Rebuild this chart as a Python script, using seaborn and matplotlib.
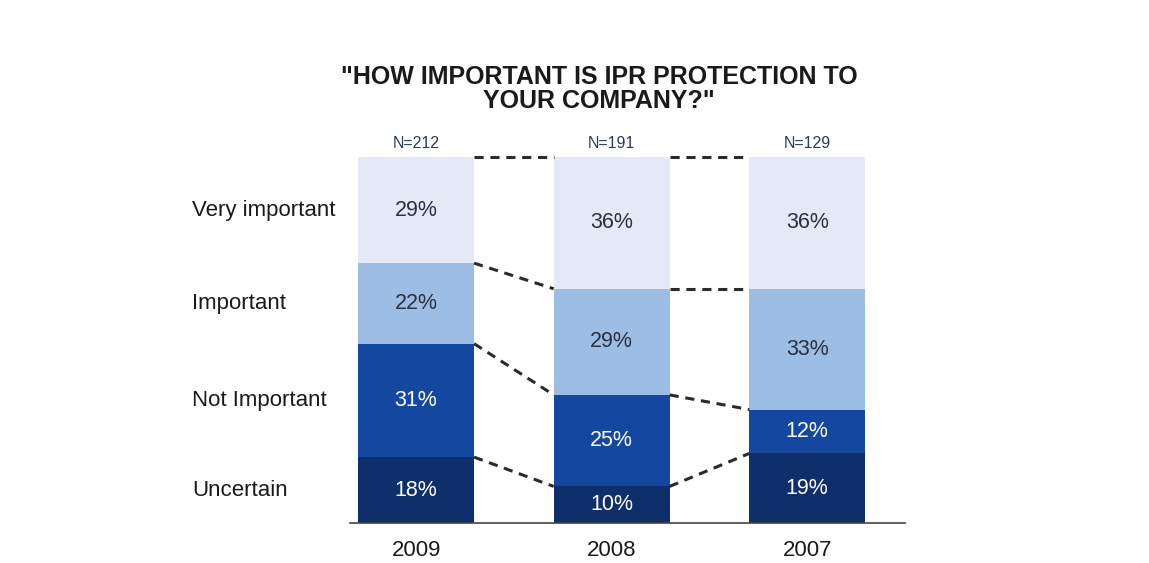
import numpy as np
import pandas as pd
import matplotlib
matplotlib.use("Agg")
import matplotlib.pyplot as plt
import matplotlib.transforms as mtransforms
import seaborn as sns

# Survey results, share of respondents per answer (%)
years = ["2009", "2008", "2007"]
sample_sizes = [212, 191, 129]
categories = ["Uncertain", "Not Important", "Important", "Very important"]
uncertain = [18, 10, 19]
not_important = [31, 25, 12]
important = [22, 29, 33]
very_important = [29, 36, 36]

colors = {
    "Uncertain": "#0E2E6C",
    "Not Important": "#1447A0",
    "Important": "#9DBEE4",
    "Very important": "#E4E9F5",
}
text_colors = {
    "Uncertain": "white",
    "Not Important": "white",
    "Important": "#2A3040",
    "Very important": "#2A3040",
}

sns.set_theme(style="white")
plt.rcParams["font.family"] = ["Liberation Sans", "DejaVu Sans"]

values = pd.DataFrame(
    {"Uncertain": uncertain, "Not Important": not_important,
     "Important": important, "Very important": very_important},
    index=years,
)
cum = values[categories].cumsum(axis=1)
lower = cum.shift(1, axis=1).fillna(0)

fig = plt.figure(figsize=(11.49, 5.63), dpi=100)
ax = fig.add_axes([350 / 1149, 40 / 563, 555 / 1149, 366 / 563])

bar_w = 0.593
# stacked bars: draw cumulative totals from the top layer down
for cat in reversed(categories):
    df = pd.DataFrame({"year": years, "total": cum[cat].values})
    sns.barplot(data=df, x="year", y="total", order=years, color=colors[cat],
                width=bar_w, saturation=1, ax=ax, linewidth=0)

# percent labels inside each segment
for i, yr in enumerate(years):
    for cat in categories:
        mid = (lower.loc[yr, cat] + cum.loc[yr, cat]) / 2
        ax.text(i, mid, f"{values.loc[yr, cat]}%", ha="center", va="center",
                fontsize=15.5, color=text_colors[cat])
    ax.annotate(f"N={sample_sizes[i]}", (i, cum.loc[yr, categories[-1]]),
                xytext=(0, 4), textcoords="offset points", ha="center",
                va="bottom", fontsize=11.5, color="#2E3A5C")

# dashed connectors between segment boundaries of neighbouring bars
for i in range(len(years) - 1):
    a, b = years[i], years[i + 1]
    for cat in categories:
        ax.plot([i + bar_w / 2, i + 1 - bar_w / 2],
                [cum.loc[a, cat], cum.loc[b, cat]],
                ls=(0, (3.0, 2.2)), color="#2B2B2B", lw=2.2, clip_on=False)

# category labels at the left, aligned with the first bar's segments
trans = mtransforms.blended_transform_factory(fig.transFigure, ax.transData)
first = years[0]
for cat in categories:
    mid = (lower.loc[first, cat] + cum.loc[first, cat]) / 2
    ax.text(192 / 1149, mid, cat, transform=trans, ha="left", va="center",
            fontsize=16, color="#1A1A1A")

ax.set_xlim(-0.338, 2.5)
ax.set_ylim(0, 100)
ax.set_xlabel("")
ax.set_ylabel("")
ax.set_yticks([])
ax.tick_params(axis="x", length=0, pad=12, labelsize=16, labelcolor="#1A1A1A")
sns.despine(ax=ax, left=True, top=True, right=True)
ax.spines["bottom"].set_color("#444444")
ax.spines["bottom"].set_linewidth(1.2)

fig.text(599 / 1149, 1 - 65 / 563,
         "\"HOW IMPORTANT IS IPR PROTECTION TO\nYOUR COMPANY?\"",
         ha="center", va="top", fontsize=18, fontweight="bold",
         color="#1A1A1A", linespacing=1.0)

fig.savefig("out.png", dpi=100, facecolor="white")
